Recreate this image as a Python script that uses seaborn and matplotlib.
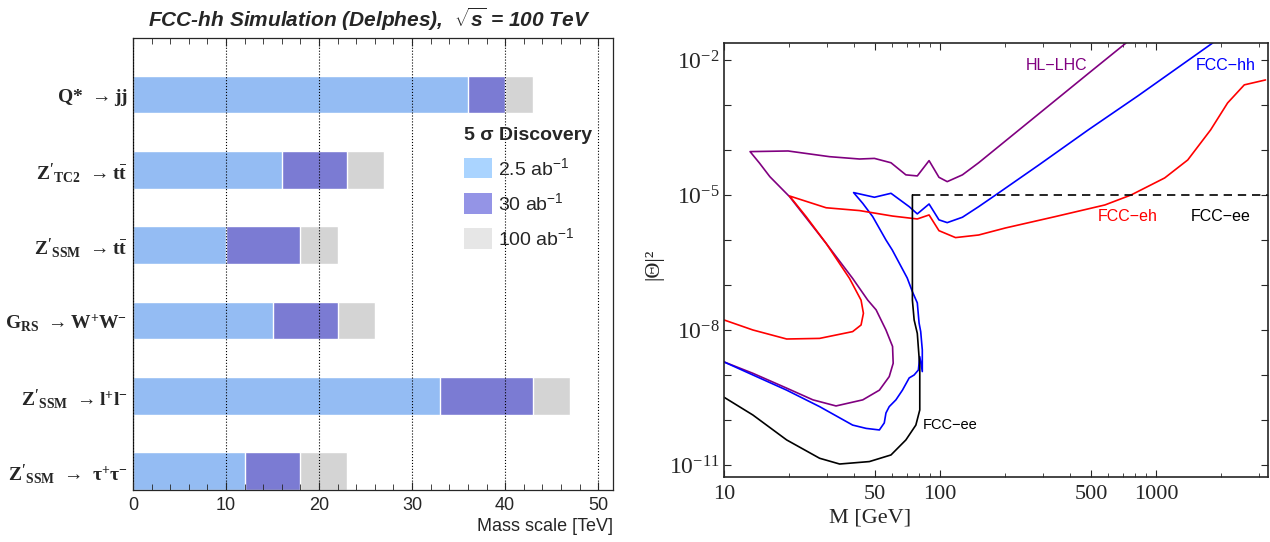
import numpy as np
import pandas as pd
import seaborn as sns
import matplotlib.pyplot as plt
from matplotlib.patches import Patch

# ---- left panel: discovery reach (TeV) ----
processes = [r"$\mathbf{Q{*}\ \rightarrow jj}$",
             r"$\mathbf{Z'_{TC2}\ \rightarrow t\bar{t}}$",
             r"$\mathbf{Z'_{SSM}\ \rightarrow t\bar{t}}$",
             r"$\mathbf{G_{RS}\ \rightarrow W^{+}W^{-}}$",
             r"$\mathbf{Z'_{SSM}\ \rightarrow l^{+}l^{-}}$",
             r"$\mathbf{Z'_{SSM}\ \rightarrow\ \tau^{+}\tau^{-}}$"]
reach_2p5 = [36, 16, 10, 15, 33, 12]
reach_30 = [40, 23, 18, 22, 43, 18]
reach_100 = [43, 27, 22, 26, 47, 23]
lumi_labels = [r"2.5 ab$^{\mathsf{-1}}$", r"30 ab$^{\mathsf{-1}}$", r"100 ab$^{\mathsf{-1}}$"]

# ---- right panel: heavy neutrino sensitivity ----
hl_M = [10, 13.6, 19.5, 25.8, 33.0, 43.9, 52.4, 58.2, 60.7, 60.3, 56.2, 50.6, 46.3, 39.4,
        29.7, 20.1, 16.3, 14.6, 13.2, 19.8, 30.8, 42.4, 49.7, 59.3, 69.5, 78.5, 89.0, 98.9,
        108, 127, 151, 286, 486, 728]
hl_T = [1.95e-9, 1.09e-9, 5.1e-10, 2.8e-10, 2.05e-10, 2.8e-10, 4.6e-10, 9.2e-10, 1.82e-9,
        4.3e-9, 1e-8, 2.8e-8, 4.6e-8, 1.4e-7, 8.4e-7, 9.2e-6, 2.55e-5, 5.1e-5, 9.2e-5, 9.5e-5,
        7.1e-5, 6.3e-5, 6.5e-5, 5.2e-5, 2.8e-5, 2.65e-5, 5.8e-5, 2.47e-5, 1.98e-5, 2.8e-5,
        5.2e-5, 6.3e-4, 5.0e-3, 2.4e-2]

hh_M = [10, 13.6, 19.5, 27.7, 39.4, 45.5, 52.4, 55.2, 56.2, 58.2, 62.5, 67.0, 72.0, 75.9,
        79.4, 80.6, 82.8, 82.8, 81.4, 80.0, 78.5, 74.5, 70.5, 60.1, 56.2, 48.8, 43.9, 39.8,
        49.7, 59.3, 72.0, 78.5, 89.0, 98.9, 108, 127, 151, 181, 286, 486, 826, 1833]
hh_T = [1.95e-9, 1e-9, 4.6e-10, 1.98e-10, 7.7e-11, 6.5e-11, 6.0e-11, 8.6e-11, 1.43e-10,
        1.98e-10, 2.8e-10, 4.6e-10, 8.6e-10, 1e-9, 1.29e-9, 2.55e-9, 1.19e-9, 3.6e-9, 9.2e-9,
        1.43e-8, 4e-8, 7.1e-8, 1.43e-7, 6e-7, 1e-6, 3.3e-6, 6.5e-6, 1.13e-5, 8.9e-6, 1.09e-5,
        5.5e-6, 3.8e-6, 6.3e-6, 2.8e-6, 2.43e-6, 3.2e-6, 5.5e-6, 1e-5, 4.6e-5, 2.8e-4,
        1.6e-3, 2.4e-2]

eh_M = [10, 13.6, 19.5, 27.7, 39.4, 43.1, 44.2, 43.1, 38.1, 29.7, 24.0, 20.1, 29.7, 42.4,
        60.3, 78.5, 89.0, 98.9, 118, 151, 201, 341, 580, 767, 1097, 1403, 1791, 2146, 2564, 3214]
eh_T = [1.67e-8, 1e-8, 6.3e-9, 6.5e-9, 9.2e-9, 1.29e-8, 2.35e-8, 4.6e-8, 1.4e-7, 8.4e-7,
        3.3e-6, 9.5e-6, 5.2e-6, 4.5e-6, 3.4e-6, 2.93e-6, 3.6e-6, 1.61e-6, 1.13e-6, 1.29e-6,
        1.85e-6, 3.3e-6, 6.0e-6, 1e-5, 2.39e-5, 6.0e-5, 2.8e-4, 1.11e-3, 2.8e-3, 3.6e-3]

ee_M = [10, 13.6, 19.5, 27.7, 34.3, 47.1, 59.3, 69.5, 77.3, 80.6, 80.6, 78.5, 75.9, 74.5, 74.5]
ee_T = [3.2e-10, 1.29e-10, 3.6e-11, 1.41e-11, 1.05e-11, 1.19e-11, 1.67e-11, 3.6e-11,
        7.7e-11, 1.67e-10, 1.53e-9, 8.4e-9, 1.67e-8, 4.6e-8, 1e-5]
ee_dash_M = [74.5, 3300]
ee_dash_T = [1e-5, 1e-5]

x_ticks = [10, 50, 100, 500, 1000]
x_minor = [20, 30, 40, 60, 70, 80, 90, 200, 300, 400, 600, 700, 800, 900, 2000, 3000]
y_exps = list(range(-11, -1))
y_label_exps = [-11, -8, -5, -2]

sns.set_style("ticks")
plt.rcParams['font.family'] = ['Liberation Sans', 'DejaVu Sans']
plt.rcParams['mathtext.fontset'] = 'custom'
plt.rcParams['mathtext.rm'] = 'Liberation Serif'
plt.rcParams['mathtext.bf'] = 'Liberation Serif:bold'
plt.rcParams['mathtext.it'] = 'Liberation Sans:italic:bold'
plt.rcParams['mathtext.sf'] = 'Liberation Sans'

fig = plt.figure(figsize=(12.7, 5.42), dpi=100)
ax1 = fig.add_axes([0.1047, 0.0959, 0.378, 0.834])
ax2 = fig.add_axes([0.5701, 0.1199, 0.4283, 0.8013])

# left: stacked reach bars, drawn back to front
bars = pd.DataFrame({"proc": processes, "r1": reach_2p5, "r2": reach_30, "r3": reach_100})
bar_cols = ["#d4d4d4", "#7b7bd3", "#94bcf3"]
for col, c in zip(["r3", "r2", "r1"], bar_cols):
    sns.barplot(data=bars, x=col, y="proc", orient="h", color=c, saturation=1,
                width=0.5, errorbar=None, ax=ax1)
ax1.set_xlim(0, 51.6)
ax1.set_ylim(5.25, -0.75)
ax1.set_ylabel("")
ax1.set_xlabel("Mass scale [TeV]", fontsize=13, loc="right")
ax1.xaxis.set_label_coords(1.0, -0.062)
ax1.set_xticks([0, 10, 20, 30, 40, 50])
ax1.set_xticks(np.arange(0, 52, 2), minor=True)
ax1.tick_params(axis="x", which="both", direction="in", top=True, labelsize=13, pad=5)
ax1.tick_params(axis="x", which="major", length=6)
ax1.tick_params(axis="x", which="minor", length=4)
ax1.tick_params(axis="y", length=0, labelsize=14, pad=4)
ax1.set_axisbelow(False)
ax1.xaxis.grid(True, which="major", linestyle=":", color="black", linewidth=0.8)
for s in ax1.spines.values():
    s.set_linewidth(0.9)
handles = [Patch(facecolor=c, edgecolor="none") for c in ["#aad4ff", "#9494e6", "#e6e6e6"]]
ax1.legend(handles, lumi_labels, title="5 σ Discovery", loc="upper left",
           bbox_to_anchor=(0.689, 0.804), frameon=False, fontsize=14, alignment="left",
           title_fontproperties={"weight": "bold", "size": 14}, borderpad=0,
           borderaxespad=0, handlelength=1.45, handleheight=1.25, handletextpad=0.3,
           labelspacing=0.68)
fig.text(0.291, 0.965, r"FCC-hh Simulation (Delphes),  $\sqrt{s}$ = 100 TeV",
         ha="center", va="center", fontsize=15, fontweight="bold", fontstyle="italic")

# right: sensitivity contours
curves = [(hl_M, hl_T, "#800080"), (hh_M, hh_T, "#0000ff"),
          (eh_M, eh_T, "#ff0000"), (ee_M, ee_T, "black")]
for m, t, c in curves:
    sns.lineplot(x=m, y=t, sort=False, estimator=None, color=c, linewidth=1.2, ax=ax2)
sns.lineplot(x=ee_dash_M, y=ee_dash_T, sort=False, estimator=None, color="black",
             linewidth=1.2, ax=ax2, dashes=False, linestyle=(0, (5, 3.5)))
ax2.set_xscale("log")
ax2.set_yscale("log")
ax2.set_xlim(10, 3300)
ax2.set_ylim(5.4e-12, 0.0242)
ax2.set_xticks(x_ticks)
ax2.set_xticklabels([str(v) for v in x_ticks], fontfamily="Liberation Serif", fontsize=16)
ax2.set_xticks(x_minor, minor=True)
ax2.set_xticklabels([], minor=True)
ax2.set_yticks([10.0 ** e for e in y_exps])
ax2.set_yticklabels([r"$\mathrm{10^{%d}}$" % e if e in y_label_exps else "" for e in y_exps],
                    fontsize=17)
ax2.yaxis.set_minor_locator(plt.NullLocator())
ax2.tick_params(which="both", direction="in", top=True, right=True)
ax2.tick_params(which="major", length=5, pad=6)
ax2.tick_params(axis="y", which="major", pad=3)
ax2.tick_params(which="minor", length=3)
for s in ax2.spines.values():
    s.set_linewidth(1.2)
ax2.set_xlabel("M [GeV]", fontfamily="Liberation Serif", fontsize=16)
ax2.xaxis.set_label_coords(0.268, -0.072)
ax2.set_ylabel("|Θ|²", fontfamily="Liberation Serif", fontsize=16)
ax2.yaxis.set_label_coords(-0.112, 0.49)

ax2.text(346, 7.4e-3, "HL−LHC", color="#800080", fontsize=11.5, ha="center", va="center")
ax2.text(2103, 7.4e-3, "FCC−hh", color="#0000ff", fontsize=11.5, ha="center", va="center")
ax2.text(743, 3.25e-6, "FCC−eh", color="#ff0000", fontsize=11.5, ha="center", va="center")
ax2.text(1995, 3.25e-6, "FCC−ee", color="black", fontsize=11.5, ha="center", va="center")
ax2.text(83, 7.7e-11, "FCC−ee", color="black", fontsize=10.5, ha="left", va="center")

fig.savefig("out.png", dpi=100)
